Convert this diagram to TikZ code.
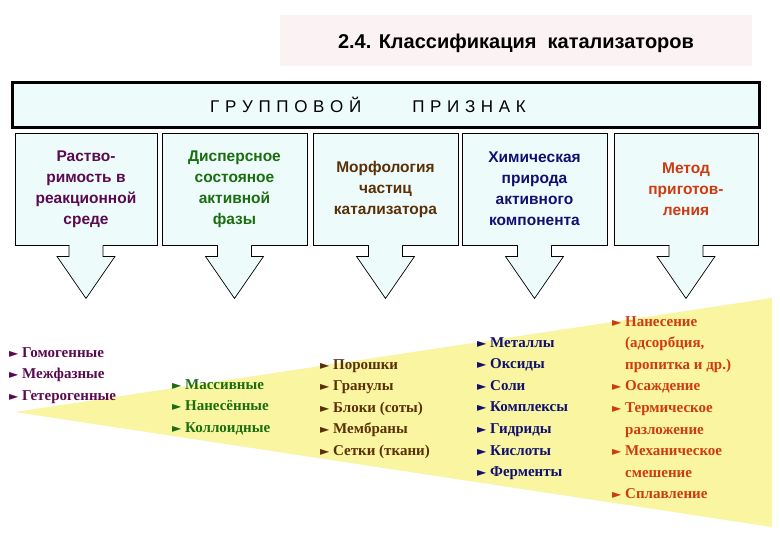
\documentclass[tikz,border=0pt]{standalone}
\usepackage{fontspec}
\setmainfont{Liberation Serif}
\newfontfamily\hvfont{Liberation Sans}
\newfontfamily\djfont{DejaVu Sans}
\definecolor{boxfill}{HTML}{EEFBFB}
\definecolor{titlebg}{HTML}{FBF3F3}
\definecolor{wedge}{HTML}{FAF5A0}
\definecolor{cpurp}{HTML}{5A0A50}
\definecolor{cgreen}{HTML}{1A6E10}
\definecolor{cbrown}{HTML}{5A3008}
\definecolor{cblue}{HTML}{101070}
\definecolor{cred}{HTML}{D03A10}
\tikzset{
 catbox/.style={draw=black,line width=0.9pt,fill=boxfill,minimum width=143pt,minimum height=112pt,inner sep=0pt,align=center,font=\hvfont\bfseries\fontsize{15.5}{21}\selectfont},
 lst/.style={anchor=north west,align=left,inner sep=0pt,font=\bfseries\fontsize{15}{21.6}\selectfont}
}
\newcommand{\tri}{{\djfont\fontsize{12}{12}\selectfont ►}\ }
\begin{document}
\begin{tikzpicture}[x=1pt,y=-1pt]
\useasboundingbox (0,0) rectangle (780,540);
\fill[white] (0,0) rectangle (780,540);
% title
\fill[titlebg] (280,15) rectangle (752,66);
\node[font=\hvfont\bfseries\fontsize{20}{24}\selectfont] (title) at (516,43) {2.4. Классификация\ \ катализаторов};
% wedge
\fill[wedge] (15,412) -- (772,298) -- (772,527) -- cycle;
% header
\node[draw=black,line width=3pt,fill=boxfill,minimum width=747pt,minimum height=45pt,inner sep=0pt] (head) at (386,105) {};
\node[font=\hvfont\fontsize{17}{20}\selectfont] (headtxt) at (368,105) {Г\,\,Р\,\,У\,\,П\,\,П\,\,О\,\,В\,\,О\,\,Й\qquad\quad П\,\,Р\,\,И\,\,З\,\,Н\,\,А\,\,К};
% boxes
\node[catbox,text=cpurp,minimum width=142pt] (b1) at (86,189) {Раство-\\римость в\\реакционной\\среде};
\node[catbox,text=cgreen,minimum width=145pt] (b2) at (234.5,189) {Дисперсное\\состояное\\активной\\фазы};
\node[catbox,text=cbrown,minimum width=145pt] (b3) at (385.5,189) {Морфология\\частиц\\катализатора};
\node[catbox,text=cblue,minimum width=145pt] (b4) at (534.5,189) {Химическая\\природа\\активного\\компонента};
\node[catbox,text=cred,minimum width=144pt] (b5) at (686,189) {Метод\\приготов-\\ления};
% arrows
\foreach \b in {b1,b2,b3,b4,b5}{
  \fill[boxfill] ([xshift=-16.5pt,yshift=0.8pt]\b.south) rectangle ([xshift=16.5pt,yshift=-14pt]\b.south);
  \fill[boxfill,draw=black,line width=0.7pt] ([xshift=-17pt]\b.south) -- ([xshift=-17pt,yshift=-11pt]\b.south) -- ([xshift=-29pt,yshift=-11pt]\b.south) -- ([yshift=-53pt]\b.south) -- ([xshift=29pt,yshift=-11pt]\b.south) -- ([xshift=17pt,yshift=-11pt]\b.south) -- ([xshift=17pt]\b.south);
}
% lists
\node[lst,text=cpurp] (l1) at (9,347) {\tri Гомогенные\\\tri Межфазные\\\tri Гетерогенные};
\node[lst,text=cgreen] (l2) at (172,379) {\tri Массивные\\\tri Нанесённые\\\tri Коллоидные};
\node[lst,text=cbrown] (l3) at (320,359) {\tri Порошки\\\tri Гранулы\\\tri Блоки (соты)\\\tri Мембраны\\\tri Сетки (ткани)};
\node[lst,text=cblue] (l4) at (477,337) {\tri Металлы\\\tri Оксиды\\\tri Соли\\\tri Комплексы\\\tri Гидриды\\\tri Кислоты\\\tri Ферменты};
\node[lst,text=cred] (l5) at (612,316) {\tri Нанесение\\\phantom{\tri}(адсорбция,\\\phantom{\tri}пропитка и др.)\\\tri Осаждение\\\tri Термическое\\\phantom{\tri}разложение\\\tri Механическое\\\phantom{\tri}смешение\\\tri Сплавление};
\end{tikzpicture}
\end{document}
